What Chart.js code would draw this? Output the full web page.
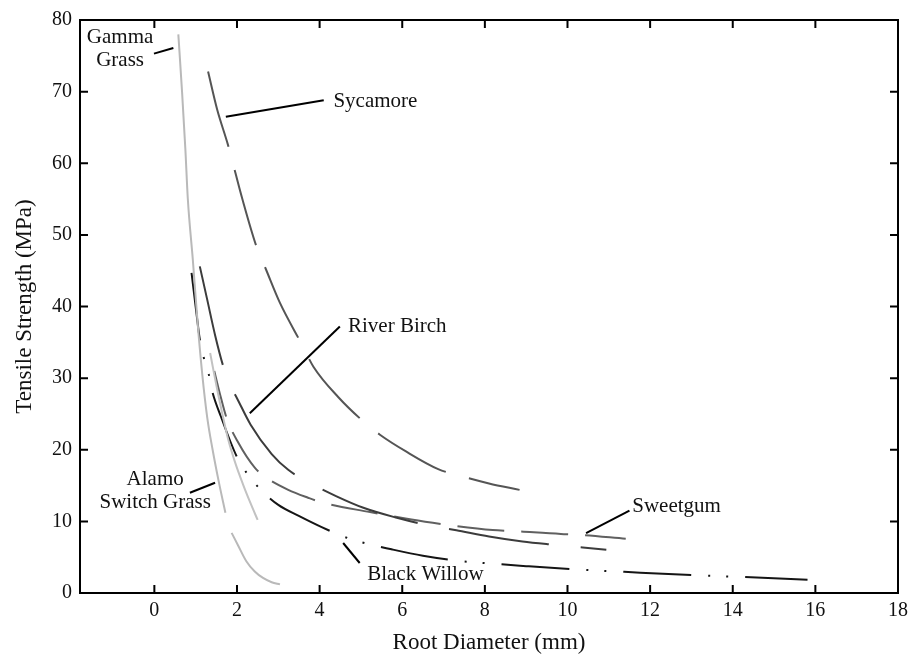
<!DOCTYPE html>
<html>
<head>
<meta charset="utf-8">
<script src="https://cdn.jsdelivr.net/npm/chart.js@4"></script>
<style>
  html, body { margin: 0; padding: 0; background: #fff; }
</style>
</head>
<body>
<canvas id="roots" width="914" height="657"></canvas>
<script>
// tick values
const xTicks = [0, 2, 4, 6, 8, 10, 12, 14, 16, 18];
const yTicks = [0, 10, 20, 30, 40, 50, 60, 70, 80];

// root diameter (mm) / tensile strength (MPa) per species
const gammaX = [0.58, 0.67, 0.75, 0.81, 0.93, 1.05, 1.16, 1.28, 1.41, 1.55, 1.72, 1.80, 1.87, 2.03, 2.23, 2.43, 2.63, 2.84, 3.04];
const gammaY = [78, 70, 62, 55, 46.6, 37.5, 30.5, 24.5, 20, 15.8, 11.2, null, 8.4, 6.6, 4.4, 3.0, 2.1, 1.5, 1.2];

const alamoX = [1.35, 1.55, 1.78, 1.95, 2.15, 2.33, 2.50];
const alamoY = [33.5, 27.6, 21.6, 18.3, 15.1, 12.5, 10.2];

const sycamoreX = [1.30, 1.52, 1.78, 2.13, 2.47, 2.70, 3.04, 3.57, 3.85, 4.46, 5.05, 5.46, 6.08, 6.87, 7.38, 8.10, 8.84];
const sycamoreY = [72.8, 67.5, 62.6, 55, 48.4, 45.2, 40.5, 34.7, 31.6, 27.3, 24, 22.1, 19.8, 17.3, 16.4, 15.3, 14.4];

const birchX = [1.10, 1.27, 1.47, 1.67, 1.82, 2.00, 2.33, 2.84, 3.24, 3.72, 4.41, 5.06, 5.87, 6.58, 7.31, 8.10, 8.91, 9.64, 10.37, 10.94];
const birchY = [45.6, 41.2, 36, 31.6, 29.2, 27.2, 23.5, 19.4, 17.2, 15.5, 13.5, 11.9, 10.5, 9.5, 8.75, 7.9, 7.2, 6.75, 6.35, 6.05];

const sweetgumX = [1.45, 1.60, 1.75, 2.03, 2.43, 2.71, 3.24, 3.72, 4.08, 5.22, 6.08, 6.74, 7.11, 8.19, 8.68, 9.84, 10.25, 11.41];
const sweetgumY = [31, 27.5, 24.4, 21, 17.5, 16.1, 14.4, 13.3, 12.6, 11.3, 10.4, 9.8, 9.5, 8.8, 8.65, 8.24, 8.14, 7.58];

const willowX = [0.90, 1.01, 1.10, 1.19, 1.31, 1.39, 1.62, 1.99, 2.23, 2.56, 3.00, 3.52, 4.05, 4.57, 5.00, 5.74, 6.50, 7.35, 8.18, 9.00, 10.17, 11.37, 12.99, 14.16, 15.81];
const willowY = [44.7, 39.5, 35.4, 33, 30.7, 28.4, 24.5, 19.1, 16.8, 14.5, 12.3, 10.7, 9.2, 7.9, 7.1, 6.1, 5.2, 4.5, 4.1, 3.75, 3.3, 2.95, 2.5, 2.25, 1.86];

// species names and where they sit, with leader lines to their curves
const labelText = [['Gamma', 'Grass'], ['Sycamore'], ['River Birch'], ['Alamo', 'Switch Grass'], ['Sweetgum'], ['Black Willow']];
const labelAt = [[-0.83, 76.0], [5.35, 68.6], [5.88, 37.2], [0.02, 14.2], [12.64, 12.1], [6.56, 2.55]];
const leaderFrom = [[-0.01, 75.3], [1.73, 66.5], [2.31, 25.1], [0.86, 14.0], [10.45, 8.37], [4.57, 6.98]];
const leaderTo = [[0.46, 76.1], [4.10, 68.8], [4.49, 37.2], [1.47, 15.4], [11.50, 11.5], [4.97, 4.19]];

const pts = (xs, ys) => xs.map((x, i) => ({ x: x, y: ys[i] }));

function curve(xs, ys, color, dash) {
  return {
    data: pts(xs, ys),
    borderColor: color,
    borderWidth: 2,
    borderDash: dash,
    pointRadius: 0,
    cubicInterpolationMode: 'monotone',
    spanGaps: false,
    fill: false
  };
}

const datasets = [
  curve(gammaX, gammaY, '#b9b9b9', []),
  curve(alamoX, alamoY, '#c2c2c2', []),
  curve(sycamoreX, sycamoreY, '#555555', [78, 24]),
  curve(birchX, birchY, '#3c3c3c', [101, 32]),
  curve(sweetgumX, sweetgumY, '#606060', [47, 17]),
  curve(willowX, willowY, '#151515', [68, 17, 2, 16, 2, 17])
];

leaderFrom.forEach((p, i) => {
  datasets.push({
    data: [{ x: p[0], y: p[1] }, { x: leaderTo[i][0], y: leaderTo[i][1] }],
    borderColor: '#000',
    borderWidth: 2,
    pointRadius: 0,
    tension: 0
  });
});

// box around the plot with inward ticks on all four sides, plus species names
const frame = {
  id: 'frame',
  afterDraw(chart) {
    const { ctx, chartArea: a, scales: { x, y } } = chart;
    ctx.save();
    ctx.strokeStyle = '#000';
    ctx.lineWidth = 2;
    ctx.strokeRect(a.left, a.top, a.right - a.left, a.bottom - a.top);
    ctx.beginPath();
    xTicks.forEach(v => {
      const px = x.getPixelForValue(v);
      ctx.moveTo(px, a.bottom); ctx.lineTo(px, a.bottom - 8);
      ctx.moveTo(px, a.top); ctx.lineTo(px, a.top + 8);
    });
    yTicks.forEach(v => {
      const py = y.getPixelForValue(v);
      ctx.moveTo(a.left, py); ctx.lineTo(a.left + 8, py);
      ctx.moveTo(a.right, py); ctx.lineTo(a.right - 8, py);
    });
    ctx.stroke();

    ctx.fillStyle = '#111';
    ctx.font = '21px "Liberation Serif", "Times New Roman", serif';
    ctx.textAlign = 'center';
    ctx.textBaseline = 'middle';
    labelText.forEach((lines, i) => {
      const cx = x.getPixelForValue(labelAt[i][0]);
      const cy = y.getPixelForValue(labelAt[i][1]);
      const step = 23;
      lines.forEach((t, j) => {
        ctx.fillText(t, cx, cy + (j - (lines.length - 1) / 2) * step);
      });
    });
    ctx.restore();
  }
};

Chart.defaults.font.family = '"Liberation Serif", "Times New Roman", serif';
Chart.defaults.color = '#111';

new Chart(document.getElementById('roots'), {
  type: 'line',
  data: { datasets: datasets },
  options: {
    responsive: false,
    animation: false,
    layout: { padding: { top: 20, right: 15, left: 0, bottom: 0 } },
    plugins: { legend: { display: false }, tooltip: { enabled: false } },
    scales: {
      x: {
        type: 'linear',
        min: -1.8,
        max: 18,
        grid: { display: false, drawTicks: false },
        border: { display: false },
        afterFit(scale) { scale.height = 64; },
        afterBuildTicks(scale) { scale.ticks = xTicks.map(v => ({ value: v })); },
        ticks: { padding: 6, font: { size: 20 } },
        title: { display: true, text: 'Root Diameter (mm)', font: { size: 23 }, padding: 0 }
      },
      y: {
        type: 'linear',
        min: 0,
        max: 80,
        grid: { display: false, drawTicks: false },
        border: { display: false },
        afterFit(scale) { scale.width = 80; },
        afterBuildTicks(scale) { scale.ticks = yTicks.map(v => ({ value: v })); },
        ticks: { padding: 8, font: { size: 20 } },
        title: { display: true, text: 'Tensile Strength (MPa)', font: { size: 23 }, padding: { top: 11, bottom: 0 } }
      }
    }
  },
  plugins: [frame]
});
</script>
</body>
</html>
